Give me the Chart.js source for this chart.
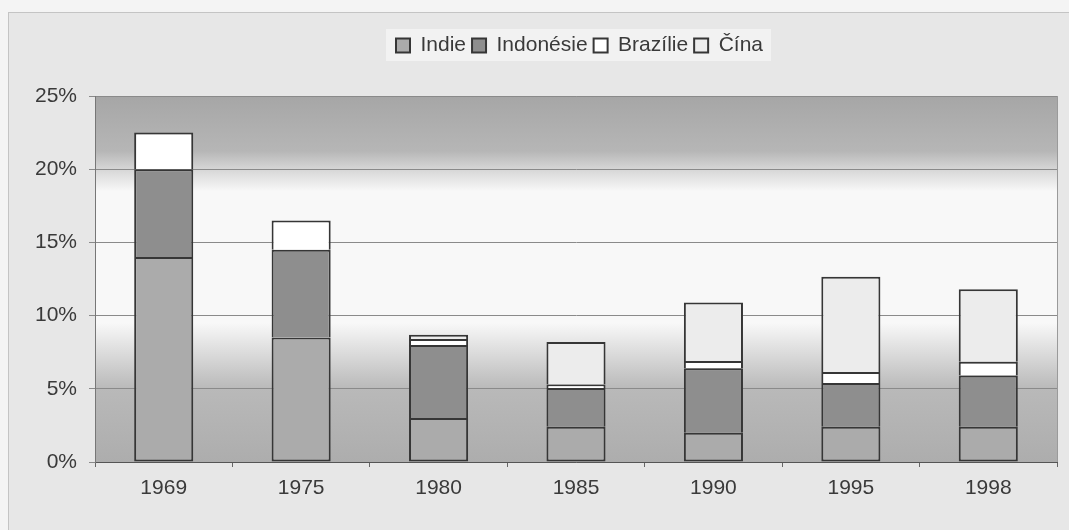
<!DOCTYPE html>
<html>
<head>
<meta charset="utf-8">
<script src="https://cdn.jsdelivr.net/npm/chart.js@4.4.1/dist/chart.umd.min.js"></script>
<style>
  html, body { margin: 0; padding: 0; background: #f4f4f4; }
  #wrap { width: 1069px; height: 530px; }
</style>
</head>
<body>
<div id="wrap"><canvas id="GraficoPodil"></canvas></div>
<script>
const roky = ['1969', '1975', '1980', '1985', '1990', '1995', '1998'];
const indie = [14.0, 8.5, 3.0, 2.4, 2.0, 2.4, 2.4];
const indonesie = [6.0, 6.0, 5.0, 2.65, 4.4, 3.0, 3.5];
const brazilie = [2.5, 2.0, 0.4, 0.25, 0.5, 0.75, 0.95];
const cina = [0, 0, 0.3, 2.9, 4.0, 6.5, 4.95];

const barvaText = "#3a3a3a";

// pozadi, ramecek a prechod v ploše grafu
const pozadiPlugin = {
  id: "pozadi",
  beforeInit(chart) {
    // vic mista pod legendou
    const puvodniFit = chart.legend.fit;
    chart.legend.fit = function () {
      puvodniFit.bind(chart.legend)();
      this.height += 30;
    };
  },
  afterLayout(chart) {
    // legenda vycentrovana nad plochou grafu, ne nad celym platnem
    const l = chart.legend;
    l.left += 92;
    if (l.adjustHitBoxes) l.adjustHitBoxes();
  },
  beforeDraw(chart) {
    const ctx = chart.ctx;
    const a = chart.chartArea;
    ctx.save();
    ctx.fillStyle = "#f4f4f4";
    ctx.fillRect(0, 0, chart.width, chart.height);
    ctx.fillStyle = "#e7e7e7";
    ctx.fillRect(8, 12, chart.width - 8, chart.height - 12);
    ctx.strokeStyle = "#c4c4c4";
    ctx.lineWidth = 1;
    ctx.strokeRect(8.5, 12.5, chart.width, chart.height);

    const g = ctx.createLinearGradient(0, a.top, 0, a.bottom);
    g.addColorStop(0, "#a6a6a6");
    g.addColorStop(0.15, "#b6b6b6");
    g.addColorStop(0.2, "#d6d6d6");
    g.addColorStop(0.26, "#f8f8f8");
    g.addColorStop(0.62, "#f8f8f8");
    g.addColorStop(0.80, "#b9b9b9");
    g.addColorStop(1, "#adadad");
    ctx.fillStyle = g;
    ctx.fillRect(a.left, a.top, a.right - a.left, a.bottom - a.top);
    ctx.strokeStyle = "#9a9a9a";
    ctx.strokeRect(a.right + 0.5, a.top, 0, a.bottom - a.top);

    // podklad legendy
    const l = chart.legend;
    const boxy = l.legendHitBoxes;
    if (boxy && boxy.length) {
      const x0 = Math.min(...boxy.map(b => b.left)) - 10;
      const x1 = Math.max(...boxy.map(b => b.left + b.width)) + 8;
      ctx.fillStyle = "#f2f2f2";
      ctx.fillRect(x0, l.top, x1 - x0, 32);
    }
    ctx.restore();
  }
};

new Chart(document.getElementById("GraficoPodil"), {
  type: "bar",
  data: {
    labels: roky,
    datasets: [
      { label: "Indie", data: indie, backgroundColor: "#ababab", borderSkipped: false },
      { label: "Indonésie", data: indonesie, backgroundColor: "#8e8e8e", borderSkipped: "start" },
      { label: "Brazílie", data: brazilie, backgroundColor: "#ffffff", borderSkipped: "start" },
      { label: "Čína", data: cina, backgroundColor: "#ececec", borderSkipped: "start" }
    ].map(d => Object.assign(d, {
      borderColor: "#363636",
      borderWidth: 2,
      categoryPercentage: 1,
      barPercentage: 0.43
    }))
  },
  options: {
    responsive: true,
    maintainAspectRatio: false,
    animation: false,
    layout: { padding: { top: 29, left: 10, right: 12, bottom: 20 } },
    scales: {
      x: {
        stacked: true,
        grid: { display: true, offset: true, drawOnChartArea: false, tickLength: 5, color: "#666" },
        border: { display: true, color: "#555", width: 1 },
        ticks: {
          color: barvaText,
          font: { family: "Liberation Sans", size: 21 },
          padding: 9
        },
        afterFit(s) { s.height = 48; }
      },
      y: {
        stacked: true,
        min: 0,
        max: 25,
        ticks: {
          stepSize: 5,
          color: barvaText,
          font: { family: "Liberation Sans", size: 21 },
          padding: 12,
          callback: v => v + "%"
        },
        grid: { color: "#8a8a8a", lineWidth: 1, tickLength: 6 },
        border: { display: true, color: "#777", width: 1 },
        afterFit(s) { s.width = 85; }
      }
    },
    plugins: {
      legend: {
        position: "top",
        labels: {
          color: barvaText,
          font: { family: "Liberation Sans", size: 21 },
          boxWidth: 14,
          boxHeight: 14,
          padding: 6,
          useBorderRadius: false
        }
      },
      tooltip: { enabled: false }
    }
  },
  plugins: [pozadiPlugin]
});
</script>
</body>
</html>
